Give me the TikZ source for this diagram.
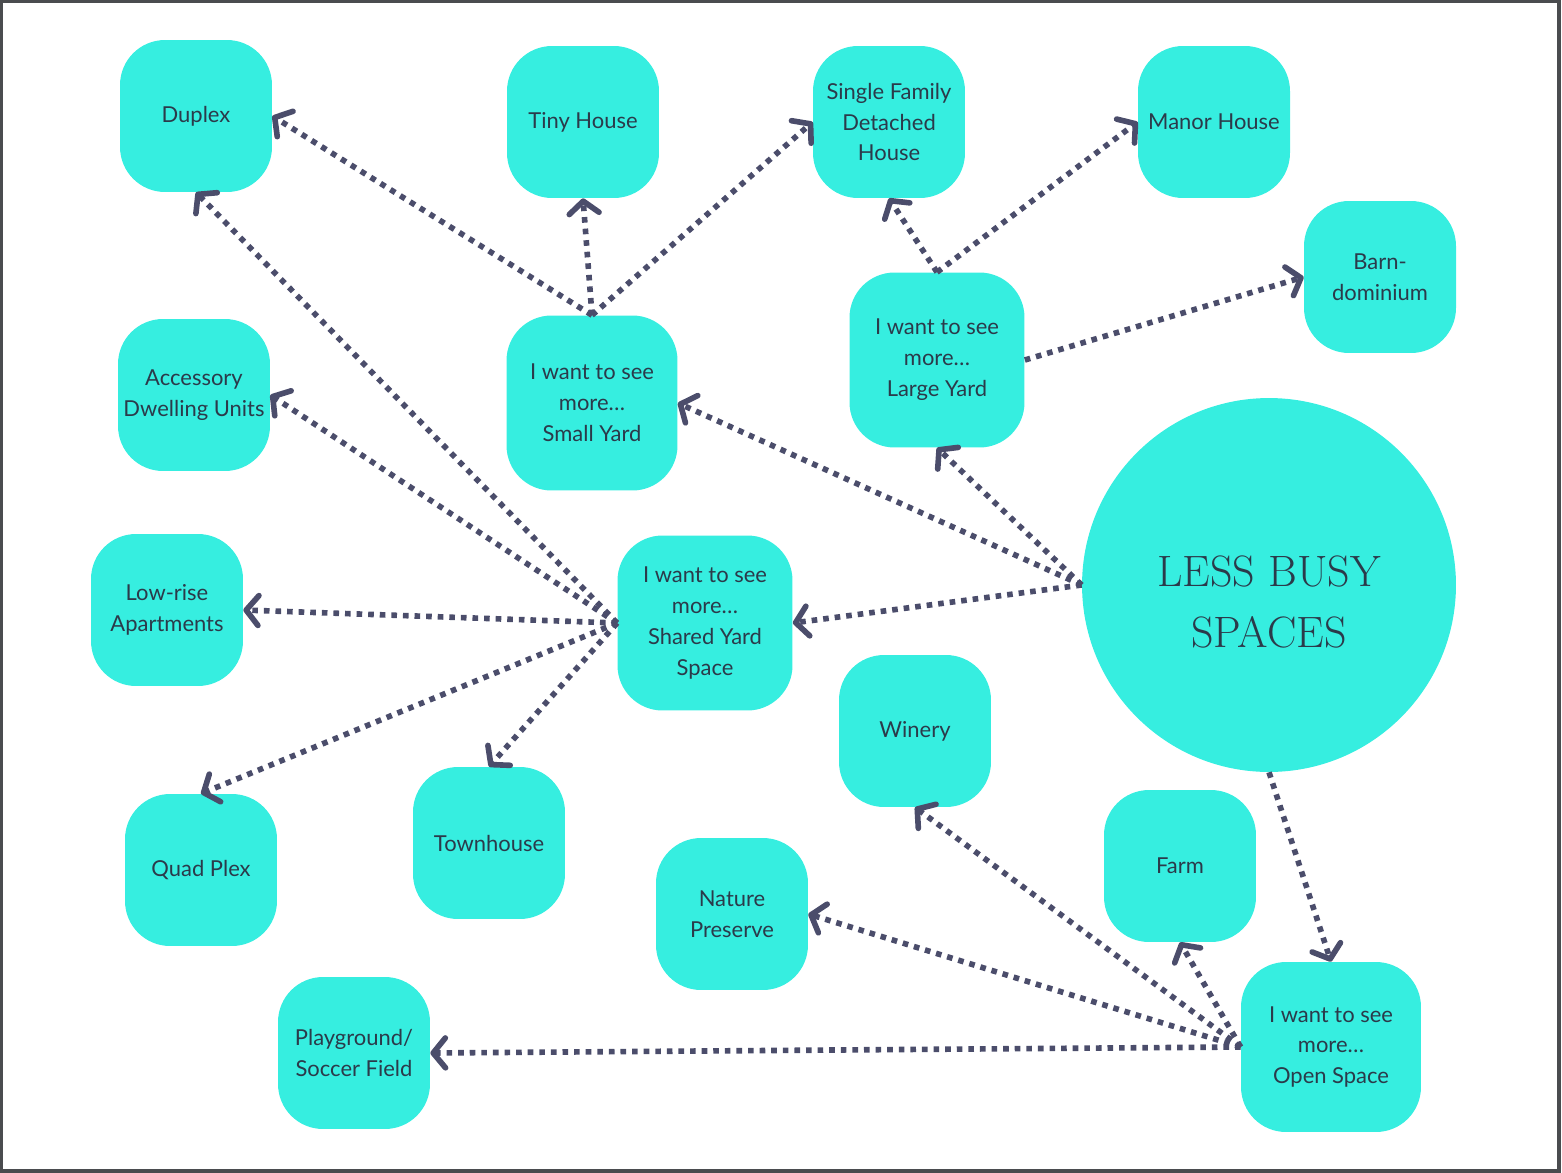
\documentclass[tikz,border=0pt]{standalone}
\usepackage{xcolor}
\usepackage{fontspec}
\usepackage{tikz}
\newfontfamily\boxfont{Lato}
\usetikzlibrary{arrows.meta}

\definecolor{aqua}{HTML}{36EEE0}
\definecolor{ink}{HTML}{2B3A4A}
\definecolor{linkc}{HTML}{4B4D6B}
\definecolor{framec}{HTML}{4A4C4F}

\tikzset{
    spot/.style={fill=aqua, rounded corners=0.9cm, minimum width=3.04cm, minimum height=3.04cm,
        align=center, text=ink, inner sep=0pt, font=\boxfont\fontsize{12.5}{17.6}\selectfont},
    wish/.style={spot, minimum width=3.5cm, minimum height=3.5cm},
    link/.style={draw=linkc, line width=3.2pt, dash pattern=on 3.2pt off 3.4pt,
        -{Straight Barb[length=7pt,width=17pt,round]}}
}

\begin{document}
\begin{tikzpicture}[x=0.02cm, y=-0.02cm]
    \useasboundingbox (0,0) rectangle (1562,1173);
    \draw[framec, line width=0.07cm] (1.5,1.5) rectangle (1559,1171);

    % main idea
    \node[circle, fill=aqua, minimum size=7.48cm] (lbs) at (1269,585) {};
    \node[align=center, text=ink, font=\fontsize{25}{34.5}\selectfont] (lbstitle) at (1269,602) {LESS BUSY\\SPACES};

    % the four wishes
    \node[wish, minimum width=3.42cm] (sy) at (592,403) {I want to see\\more…\\Small Yard};
    \node[wish] (ly) at (937,360) {I want to see\\more…\\Large Yard};
    \node[wish] (sh) at (705,623) {I want to see\\more…\\Shared Yard\\Space};
    \node[wish, minimum width=3.6cm, minimum height=3.4cm] (os) at (1331,1047) {I want to see\\more…\\Open Space};

    % places
    \node[spot] (duplex) at (196,116) {Duplex};
    \node[spot] (tiny) at (583,122) {Tiny House};
    \node[spot] (single) at (889,122) {Single Family\\Detached\\House};
    \node[spot] (manor) at (1214,122) {Manor House};
    \node[spot] (barn) at (1380,277) {Barn-\\dominium};
    \node[spot] (adu) at (194,395) {Accessory\\Dwelling Units};
    \node[spot] (lowrise) at (167,610) {Low-rise\\Apartments};
    \node[spot] (winery) at (915,731) {Winery};
    \node[spot] (quad) at (201,870) {Quad Plex};
    \node[spot] (town) at (489,843) {Townhouse};
    \node[spot] (farm) at (1180,866) {Farm};
    \node[spot] (nature) at (732,914) {Nature\\Preserve};
    \node[spot] (play) at (354,1053) {Playground/\\Soccer Field};

    % links
    \foreach \a/\b in {sy.north/duplex.east, sy.north/tiny.south, sy.north/single.west,
        ly.north/single.south, ly.north/manor.west, ly.east/barn.west,
        lbs.west/sy.east, lbs.west/ly.south, lbs.west/sh.east, lbs.south/os.north,
        sh.west/duplex.south, sh.west/adu.east, sh.west/lowrise.east, sh.west/quad.north, sh.west/town.north,
        os.west/farm.south, os.west/winery.south, os.west/nature.east, os.west/play.east}
        \draw[link] (\a) -- (\b);
\end{tikzpicture}
\end{document}
